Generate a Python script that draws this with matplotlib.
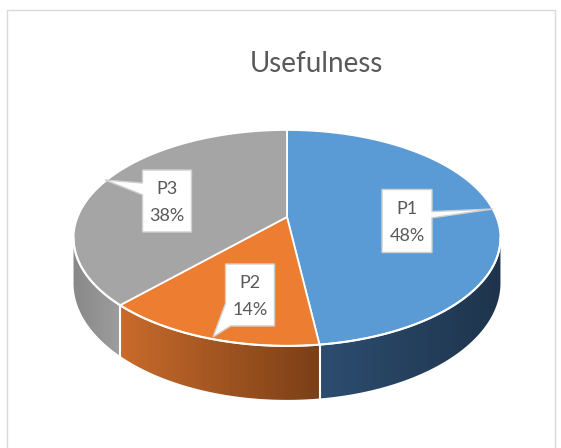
import numpy as np
import matplotlib.pyplot as plt
from matplotlib.patches import Polygon, Rectangle
from matplotlib.colors import to_rgb

title = 'Usefulness'
labels = ['P1', 'P2', 'P3']
values = [48, 14, 38]

top_colors = ['#5B9BD5', '#ED7D31', '#A5A5A5']
side_left = ['#2D4D70', '#C96B2C', '#888888']
side_right = ['#1E344C', '#7A3F16', '#9E9E9E']
text_color = '#595959'

# callout boxes: centre x, centre y, width, height (pixels)
boxes = [(407, 221, 50, 63), (250, 295, 49, 62), (167, 201, 49, 62)]

# pie projection (pixels), perspective factor p
cx, cy = 287, 217
sx, sy = 209.4, 103.9
p = 0.194
depth = 43.5


def rim(t, drop=0.0):
    r = np.radians(t)
    w = 1 + p * np.cos(r)
    x = cx + sx * np.sin(r) / w
    y = cy - sy * np.cos(r) / w + drop / w
    return x, y


fig = plt.figure(figsize=(5.61, 4.48), dpi=100)
ax = fig.add_axes([0, 0, 1, 1])
ax.axis('off')

ax.add_patch(Rectangle((7, 10), 548, 460, fill=False, ec='#D9D9D9', lw=1))

total = sum(values)
ends = np.cumsum(values) / total * 360
starts = np.concatenate([[0], ends[:-1]])

vis_lo = np.degrees(np.arccos(-p))
vis_hi = 360 - vis_lo

# side walls, shaded left to right
for i in range(len(values)):
    lo, hi = max(starts[i], vis_lo), min(ends[i], vis_hi)
    if lo >= hi:
        continue
    ts = np.linspace(lo, hi, 150)
    xt, yt = rim(ts)
    xb, yb = rim(ts, depth)
    outline = list(zip(xt, yt)) + list(zip(xb[::-1], yb[::-1]))
    clip = Polygon(outline, closed=True, fc='none', ec='none')
    ax.add_patch(clip)
    f = np.linspace(0, 1, 256)[:, None]
    c1, c2 = np.array(to_rgb(side_left[i])), np.array(to_rgb(side_right[i]))
    grad = (c1 + (c2 - c1) * f)[None, :, :]
    im = ax.imshow(grad, extent=(xt.min() - 1, xt.max() + 1, yb.max() + 1, yt.min() - 1),
                   aspect='auto', interpolation='bilinear', zorder=1)
    im.set_clip_path(clip)

# top wedges
for i in range(len(values)):
    ts = np.linspace(starts[i], ends[i], 200)
    xt, yt = rim(ts)
    pts = [(cx, cy)] + list(zip(xt, yt))
    ax.add_patch(Polygon(pts, closed=True, fc=top_colors[i], ec='white',
                         lw=1.3, joinstyle='round', zorder=2))

# white front rim and side seams
ts = np.linspace(vis_lo, vis_hi, 300)
ax.plot(*rim(ts), color='white', lw=1.5, zorder=3)
for t in ends[:-1]:
    if vis_lo < t < vis_hi:
        x0, y0 = rim(t)
        x1, y1 = rim(t, depth)
        ax.plot([x0, x1], [y0, y1], color='white', lw=1.5, zorder=3)

# callouts (box + pointer)
pointers = [
    [(1, -0.3), (493, 209), (1, -0.1)],
    [(-1, 0.27), (213, 337), (-0.79, 1)],
    [(-1, -0.58), (105, 180), (-1, -0.2)],
]
for i in range(len(values)):
    bx, by, bw, bh = boxes[i]
    hw, hh = bw / 2, bh / 2
    (fa, ga), tip, (fb, gb) = pointers[i]
    pa = (bx + fa * hw, by + ga * hh)
    pb = (bx + fb * hw, by + gb * hh)
    if i == 0:
        pts = [(bx - hw, by - hh), (bx + hw, by - hh), pa, tip, pb,
               (bx + hw, by + hh), (bx - hw, by + hh)]
    elif i == 1:
        pts = [(bx - hw, by - hh), (bx + hw, by - hh), (bx + hw, by + hh),
               pb, tip, pa]
    else:
        pts = [(bx - hw, by - hh), (bx + hw, by - hh), (bx + hw, by + hh),
               (bx - hw, by + hh), pb, tip, pa]
    ax.add_patch(Polygon(pts, closed=True, fc='white', ec='#CFCFCF', lw=1,
                         joinstyle='miter', zorder=4))
    pct = '{:.0f}%'.format(values[i] / total * 100)
    ax.text(bx, by - 12, labels[i], ha='center', va='center', zorder=5,
            fontsize=13, family='Lato', color=text_color)
    ax.text(bx, by + 15, pct, ha='center', va='center', zorder=5,
            fontsize=13, family='Lato', color=text_color)

ax.text(316, 72, title, ha='center', va='baseline', fontsize=20,
        family='Lato', color=text_color)

ax.set_xlim(0, 561)
ax.set_ylim(448, 0)

fig.savefig('out.png', dpi=100)
